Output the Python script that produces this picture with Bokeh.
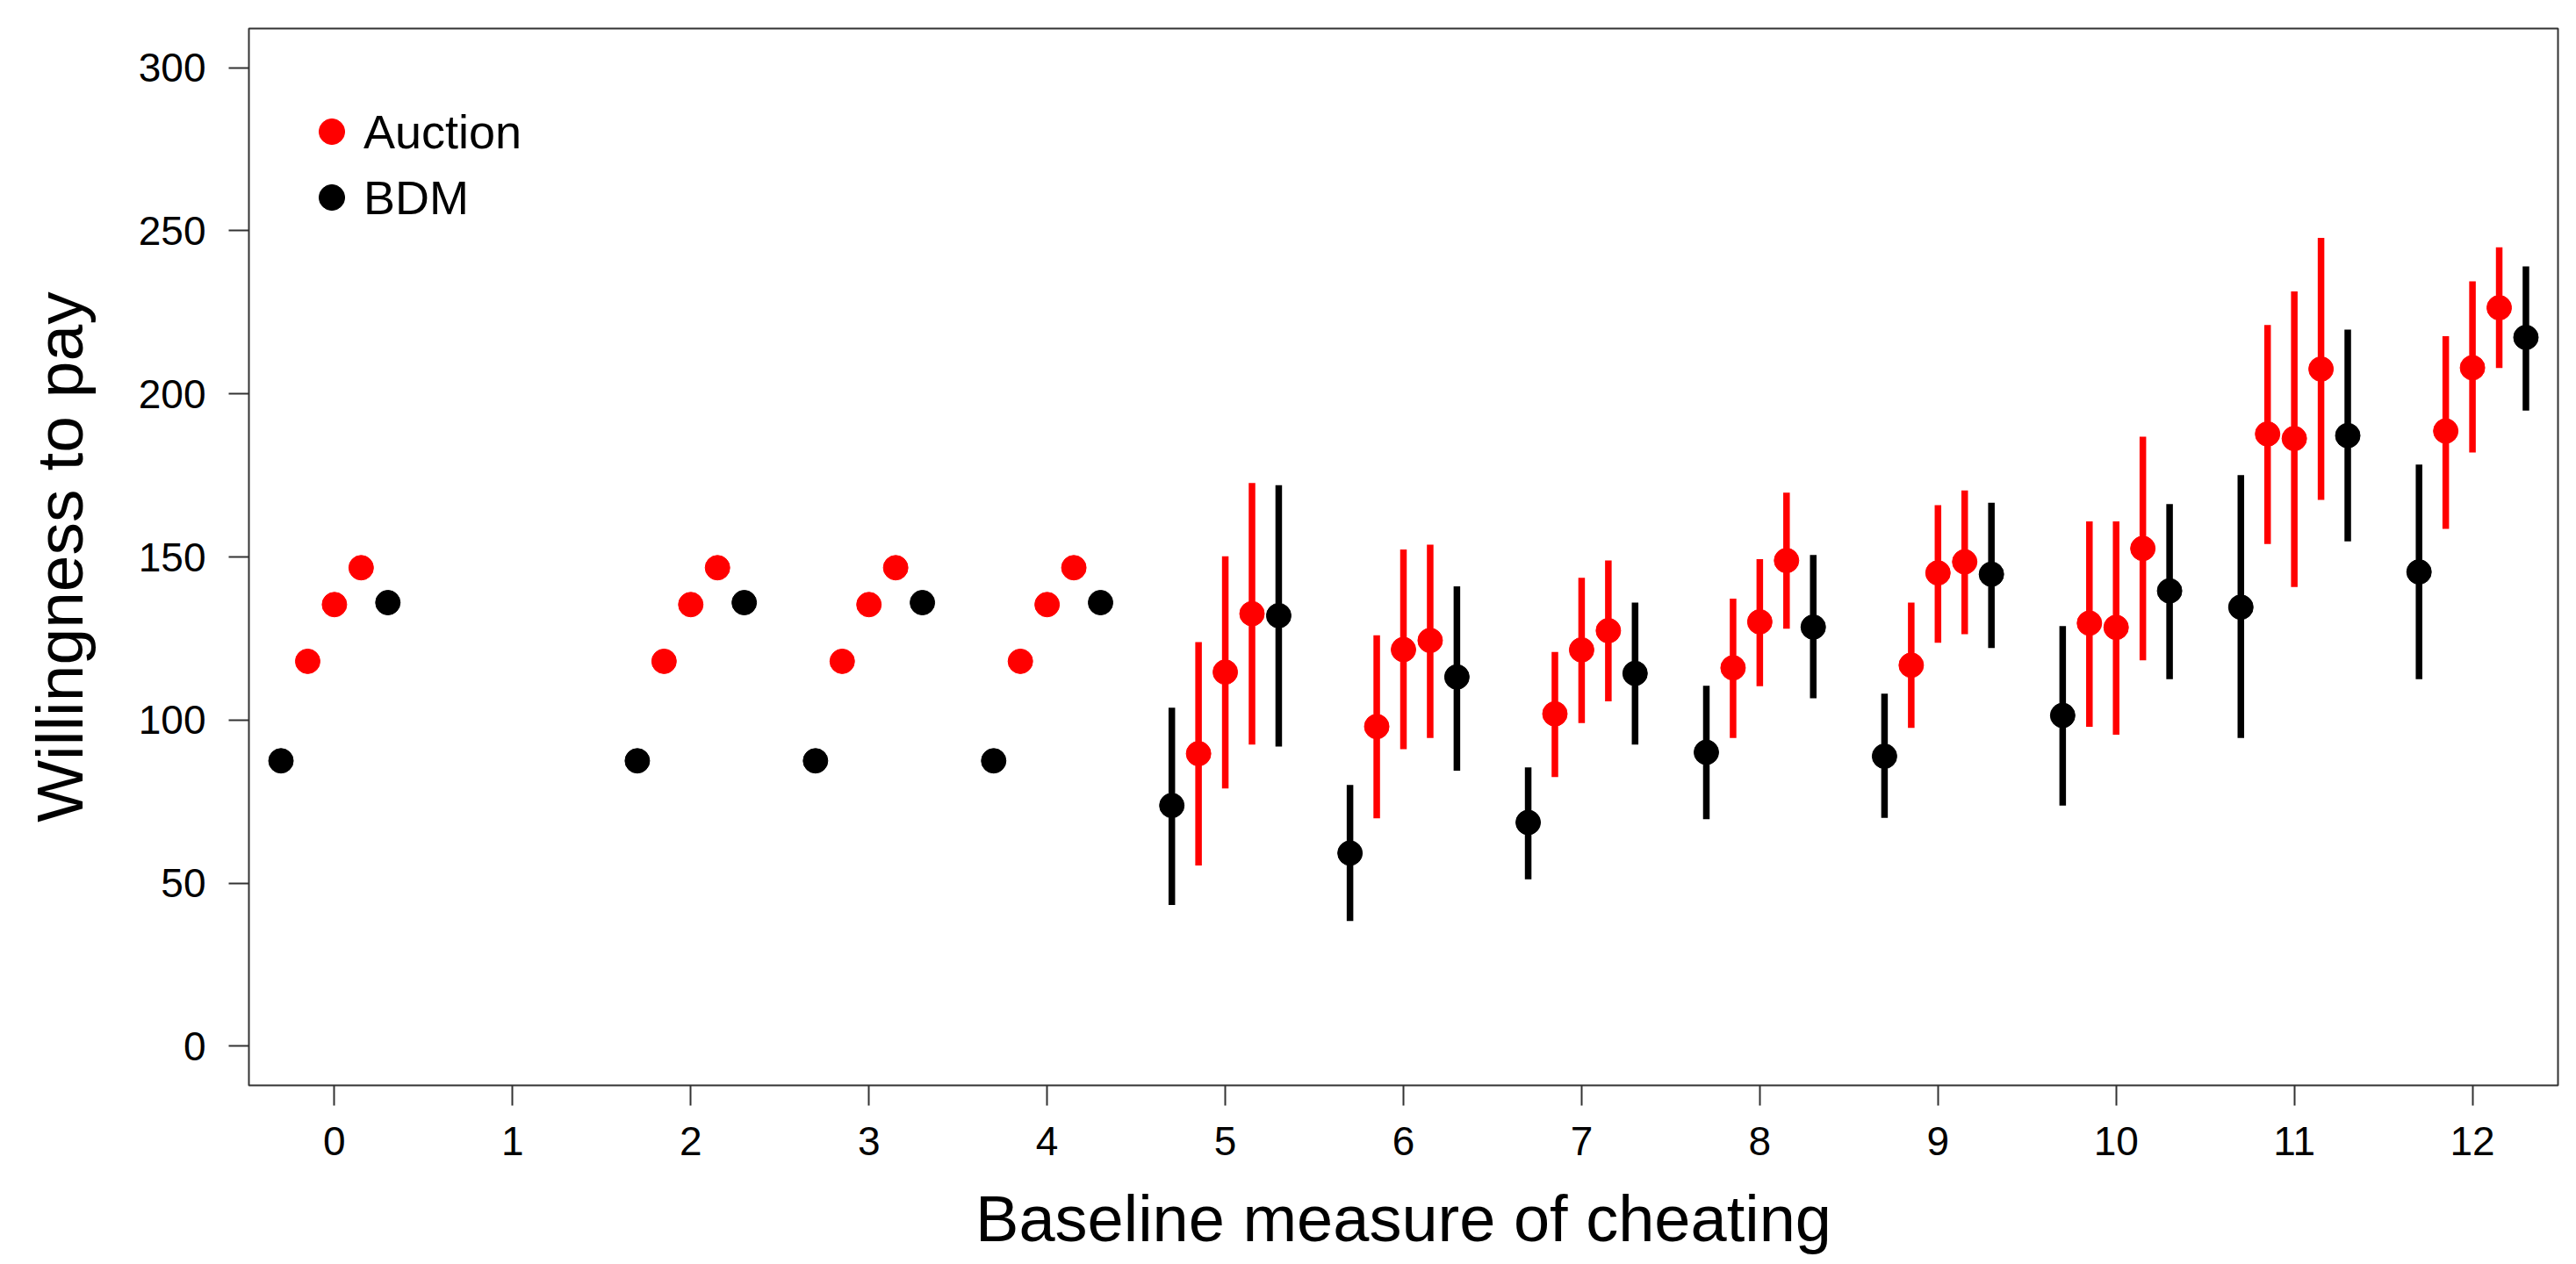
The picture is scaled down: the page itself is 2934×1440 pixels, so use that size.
import numpy as np
from bokeh.plotting import figure
from bokeh.models import (ColumnDataSource, FixedTicker, Legend,
                          LegendItem, Range1d)
from bokeh.embed import file_html
from bokeh.resources import INLINE

# ---------------- data ----------------
groups = [0, 2, 3, 4, 5, 6, 7, 8, 9, 10, 11, 12]
x_ticks = list(range(13))
y_ticks = [0, 50, 100, 150, 200, 250, 300]

# BDM, left member of each group
bdm_a_mean = [87.5, 87.5, 87.5, 87.5, 73.8, 59.2, 68.6, 90.1, 88.9, 101.4, 134.6, 145.4]
bdm_a_low  = [None, None, None, None, 43.3, 38.4, 51.2, 69.6, 70.0, 73.8, 94.5, 112.5]
bdm_a_high = [None, None, None, None, 103.8, 80.1, 85.5, 110.5, 108.1, 128.8, 175.1, 178.3]

# Auction, first
auc_a_mean = [118.0, 118.0, 118.0, 118.0, 89.7, 98.0, 101.9, 116.0, 116.8, 129.7, 187.7, 188.6]
auc_a_low  = [None, None, None, None, 55.4, 69.9, 82.5, 94.5, 97.6, 97.9, 154.0, 158.6]
auc_a_high = [None, None, None, None, 123.9, 126.0, 120.9, 137.2, 136.0, 160.9, 221.1, 217.7]

# Auction, second
auc_b_mean = [135.4, 135.4, 135.4, 135.4, 114.7, 121.6, 121.5, 130.1, 145.1, 128.4, 186.3, 208.0]
auc_b_low  = [None, None, None, None, 79.0, 91.1, 99.1, 110.4, 123.7, 95.5, 140.8, 182.0]
auc_b_high = [None, None, None, None, 150.2, 152.3, 143.6, 149.3, 165.9, 160.9, 231.4, 234.5]

# Auction, third
auc_c_mean = [146.7, 146.7, 146.7, 146.7, 132.6, 124.4, 127.4, 148.9, 148.5, 152.6, 207.6, 226.4]
auc_c_low  = [None, None, None, None, 92.5, 94.5, 105.7, 128.0, 126.3, 118.3, 167.5, 207.9]
auc_c_high = [None, None, None, None, 172.7, 153.8, 148.9, 169.7, 170.4, 186.9, 247.8, 244.9]

# BDM, right member of each group
bdm_b_mean = [136.0, 136.0, 136.0, 136.0, 132.0, 113.2, 114.3, 128.5, 144.7, 139.6, 187.2, 217.3]
bdm_b_low  = [None, None, None, None, 91.9, 84.5, 92.5, 106.7, 122.1, 112.5, 154.8, 194.9]
bdm_b_high = [None, None, None, None, 172.0, 141.0, 136.0, 150.6, 166.6, 166.2, 219.7, 239.1]

x_title = "Baseline measure of cheating"
y_title = "Willingness to pay"

RED = "#FF0000"
BLACK = "#000000"
FONT = "Liberation Sans"

p = figure(width=2934, height=1440,
           x_range=Range1d(-0.48, 12.48), y_range=Range1d(-12, 312),
           output_backend="svg", toolbar_location=None,
           min_border_left=283, min_border_right=21,
           min_border_top=32, min_border_bottom=204)
p.xgrid.visible = False
p.ygrid.visible = False
p.outline_line_color = "#333333"
p.outline_line_width = 2
p.background_fill_color = "white"
p.border_fill_color = "white"

def add_slot(offset, mean, low, high, color):
    g = np.array(groups, dtype=float)
    src = ColumnDataSource(dict(
        x=g + offset,
        m=np.array(mean, dtype=float),
        lo=np.array(low, dtype=float),
        hi=np.array(high, dtype=float)))
    p.segment(x0="x", y0="lo", x1="x", y1="hi", source=src,
              line_color=color, line_width=7.5, line_cap="butt")
    r = p.scatter(x="x", y="m", source=src, size=28, marker="circle",
                  fill_color=color, line_color=color, line_width=1)
    return r

r_bdm = add_slot(-0.30, bdm_a_mean, bdm_a_low, bdm_a_high, BLACK)
r_auc = add_slot(-0.15, auc_a_mean, auc_a_low, auc_a_high, RED)
add_slot(0.00, auc_b_mean, auc_b_low, auc_b_high, RED)
add_slot(0.15, auc_c_mean, auc_c_low, auc_c_high, RED)
add_slot(0.30, bdm_b_mean, bdm_b_low, bdm_b_high, BLACK)

# axes
for ax in (p.xaxis[0], p.yaxis[0]):
    ax.axis_line_color = None
    ax.major_tick_in = 0
    ax.major_tick_out = 23
    ax.minor_tick_line_color = None
    ax.major_tick_line_width = 2
    ax.major_tick_line_color = "#333333"
    ax.major_label_text_font = FONT
    ax.major_label_text_font_size = "46px"
    ax.major_label_text_color = "black"
    ax.axis_label_text_font = FONT
    ax.axis_label_text_font_style = "normal"
    ax.axis_label_text_color = "black"
p.xaxis.ticker = FixedTicker(ticks=x_ticks)
p.yaxis.ticker = FixedTicker(ticks=y_ticks)
p.xaxis.major_label_standoff = 24
p.yaxis.major_label_standoff = 26

p.yaxis.axis_label = y_title
p.yaxis.axis_label_text_font_size = "75px"
p.yaxis.axis_label_standoff = 45

p.xaxis.axis_label = x_title
p.xaxis.axis_label_text_font_size = "74px"
p.xaxis.axis_label_standoff = 28

legend = Legend(items=[LegendItem(label="Auction", renderers=[r_auc]),
                       LegendItem(label="BDM", renderers=[r_bdm])],
                location=(58, 974), glyph_width=73, glyph_height=75,
                label_standoff=-13, spacing=0, padding=0, margin=0,
                border_line_color=None, background_fill_alpha=0,
                label_text_font=FONT, label_text_font_size="54px",
                label_text_color="black")
p.add_layout(legend)

open("out.html", "w").write(file_html(p, INLINE))
